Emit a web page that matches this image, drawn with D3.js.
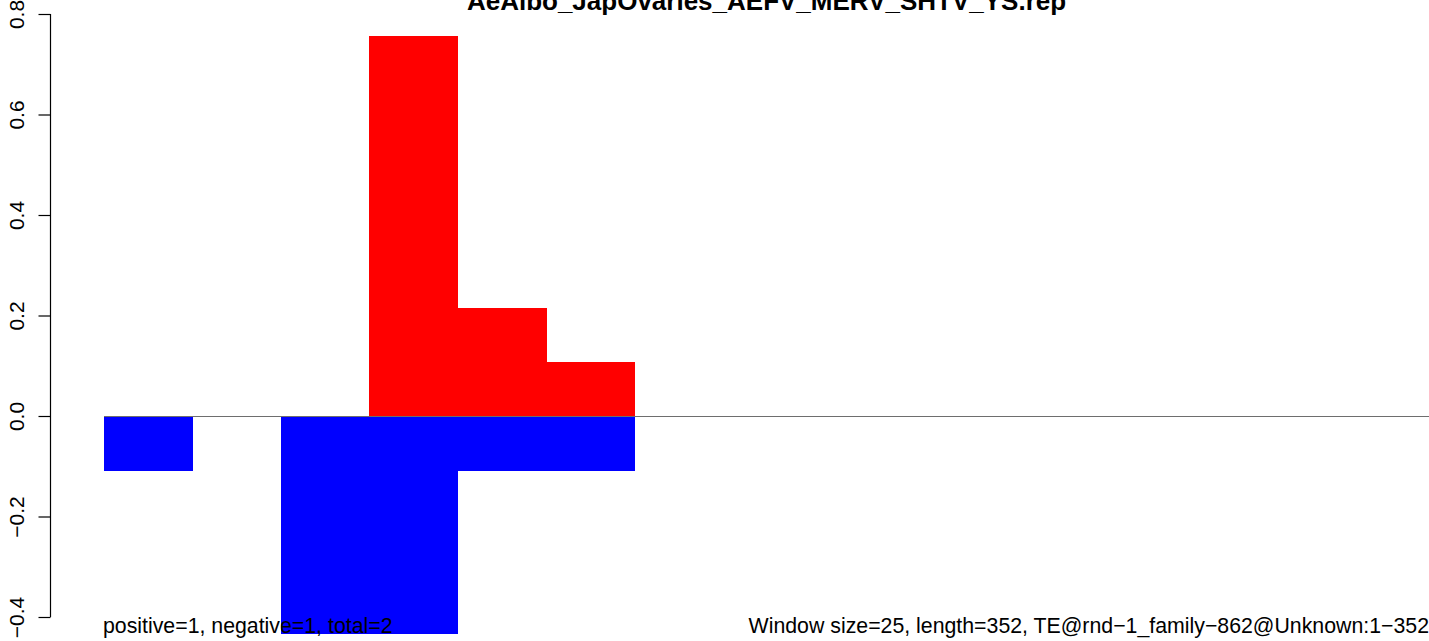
<!DOCTYPE html>
<html>
<head>
<meta charset="utf-8">
<script src="https://cdn.jsdelivr.net/npm/d3@7"></script>
<style>
  html, body { margin: 0; padding: 0; background: #fff; }
  svg { display: block; font-family: "Liberation Sans", Arial, Helvetica, sans-serif; }
</style>
</head>
<body>
<svg id="chart" width="1429" height="641"></svg>
<script>
// ---- data ----
const title = "AeAlbo_JapOvaries_AEFV_MERV_SHTV_YS.rep";
const windows = d3.range(15);                 // window index 0..14 (size 25, length 352)
const positiveValues = [0, 0, 0, 0.756, 0.215, 0.107, 0, 0, 0, 0, 0, 0, 0, 0, 0];
const negativeValues = [-0.109, 0, -0.434, -0.434, -0.109, -0.109, 0, 0, 0, 0, 0, 0, 0, 0, 0];
const yTicks = [-0.4, -0.2, 0.0, 0.2, 0.4, 0.6, 0.8];
const leftNote = "positive=1, negative=1, total=2";
const rightNote = "Window size=25, length=352, TE@rnd\u22121_family\u2212862@Unknown:1\u2212352";

// ---- layout ----
const svg = d3.select("#chart");
const W = 1429, H = 641;
const x = d3.scaleLinear().domain([0, 15]).range([104, 1430]);
const y = d3.scaleLinear().domain([-0.4, 0.8]).range([617, 14]);

// bars
const bw = x(1) - x(0);
svg.append("g").attr("shape-rendering", "crispEdges").selectAll("rect.pos")
  .data(windows.filter(i => positiveValues[i] !== 0))
  .join("rect")
  .attr("x", i => x(i)).attr("width", bw + 0.5)
  .attr("y", i => y(positiveValues[i]))
  .attr("height", i => y(0) - y(positiveValues[i]))
  .attr("fill", "#ff0000");

svg.append("g").attr("shape-rendering", "crispEdges").selectAll("rect.neg")
  .data(windows.filter(i => negativeValues[i] !== 0))
  .join("rect")
  .attr("x", i => x(i)).attr("width", bw + 0.5)
  .attr("y", y(0))
  .attr("height", i => y(negativeValues[i]) - y(0))
  .attr("fill", "#0000ff");

// zero line
const y0 = Math.round(y(0)) + 0.5;
svg.append("line")
  .attr("x1", x(0)).attr("x2", W)
  .attr("y1", y0).attr("y2", y0)
  .attr("stroke", "#6e6e6e").attr("stroke-width", 1.2);

// y axis
const axis = d3.axisLeft(y).tickValues(yTicks).tickSize(12).tickSizeOuter(0)
  .tickFormat(d => d3.format(".1f")(d).replace("-", "\u2212"));
const ga = svg.append("g").attr("transform", "translate(50.5,0)").call(axis);
ga.select(".domain").attr("stroke", "#000").attr("stroke-width", 1.2)
  .attr("d", `M0,${y(-0.4)}V${y(0.8)}`);
ga.selectAll(".tick line").attr("stroke", "#000").attr("stroke-width", 1.2);
ga.selectAll(".tick text")
  .attr("font-size", 21).attr("fill", "#000")
  .attr("x", null).attr("dy", null)
  .attr("text-anchor", "middle")
  .attr("transform", "translate(-27,0) rotate(-90)");
ga.attr("font-family", null);

// title
svg.append("text")
  .attr("x", (x(0) + W) / 2).attr("y", 10)
  .attr("text-anchor", "middle")
  .attr("font-weight", "bold").attr("font-size", 26)
  .text(title);

// notes
svg.append("text").attr("x", 103).attr("y", 633)
  .attr("font-size", 21.3).text(leftNote);
svg.append("text").attr("x", 1429).attr("y", 633)
  .attr("text-anchor", "end").attr("font-size", 21.3).text(rightNote);
</script>
</body>
</html>
